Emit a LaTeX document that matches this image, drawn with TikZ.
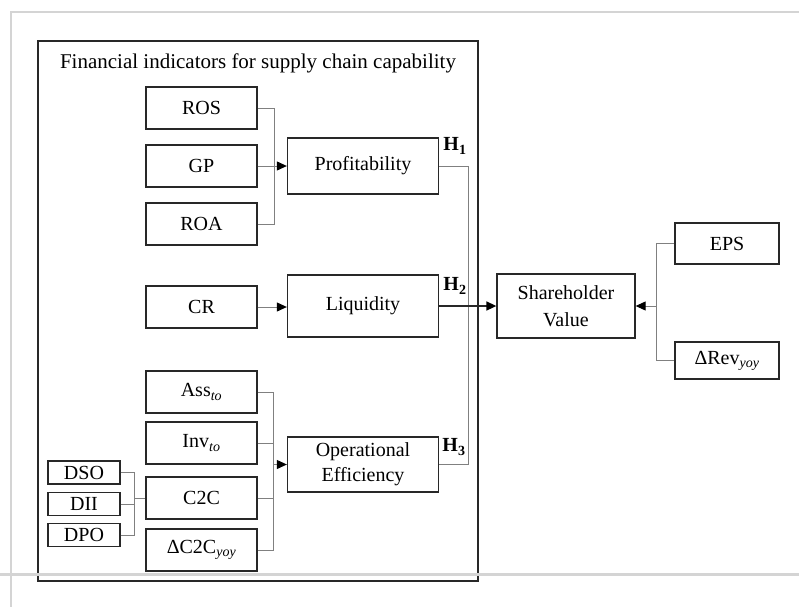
\documentclass[tikz,border=0pt]{standalone}
\usepackage{fontspec}
\setmainfont{Liberation Serif}
\usepackage{xcolor}
\definecolor{boxline}{RGB}{40,40,40}
\definecolor{linkgray}{RGB}{128,128,128}
\definecolor{framegray}{RGB}{212,212,212}
\usetikzlibrary{arrows.meta,positioning,calc}

\tikzset{
  ind/.style={draw=boxline, line width=1.3pt, minimum width=111pt, minimum height=42pt,
    inner sep=0pt, font=\fontsize{20}{25}\selectfont},
  subind/.style={ind, minimum width=72pt, minimum height=23pt},
  capab/.style={ind, minimum width=151pt, minimum height=56pt, align=center},
  link/.style={draw=linkgray, line width=1pt},
  arr/.style={-{Triangle[length=10pt,width=9pt,color=black]}},
  hyp/.style={font=\fontsize{20}{22}\selectfont\bfseries, inner sep=0pt}
}

\begin{document}
\begin{tikzpicture}[x=1pt,y=-1pt]
\useasboundingbox (0,0) rectangle (799,607);
% Outer frame for the indicators
\draw[boxline, line width=1.3pt] (38,41) rectangle (478,581);
\node[font=\fontsize{21}{24}\selectfont] (title) at (258,63) {Financial indicators for supply chain capability};
% Profitability group
\node[ind] (ros) at (201.5,108) {ROS};
\node[ind] (gp) at (201.5,166) {GP};
\node[ind] (roa) at (201.5,224) {ROA};
\node[capab] (profit) at (363,166) {Profitability};
\coordinate (pbar) at (274,166);
\draw[link] (ros.east) -| (pbar);
\draw[link] (roa.east) -| (pbar);
\draw[link, arr] (gp.east) -- (profit.west);
% Liquidity group
\node[ind] (cr) at (201.5,307) {CR};
\node[capab, minimum height=62pt] (liq) at (363,306) {Liquidity};
\draw[link, arr] (cr.east) -- (cr.east -| liq.west);
% Operational efficiency group
\node[ind] (ass) at (201.5,392) {Ass\textsubscript{\textit{to}}};
\node[ind] (inv) at (201.5,443) {Inv\textsubscript{\textit{to}}};
\node[ind] (ctc) at (201.5,498) {C2C};
\node[ind] (dctc) at (201.5,550) {ΔC2C\textsubscript{\textit{yoy}}};
\node[capab, minimum height=55pt] (opeff) at (363,464.5) {Operational\\Efficiency};
\coordinate (obar) at (273,464.5);
\draw[link] (ass.east) -| (obar);
\draw[link] (dctc.east) -| (obar);
\draw[link] (inv.east) -- (inv.east -| obar);
\draw[link] (ctc.east) -- (ctc.east -| obar);
\draw[link, arr] (obar) -- (opeff.west);
% C2C components
\node[subind] (dso) at (84,472.5) {DSO};
\node[subind] (dii) at (84,504) {DII};
\node[subind] (dpo) at (84,535) {DPO};
\coordinate (dbar) at (134,498);
\draw[link] (dso.east) -| (dbar);
\draw[link] (dpo.east) -| (dbar);
\draw[link] (dii.east) -- (dii.east -| dbar);
\draw[link] (dbar) -- (ctc.west);
% Shareholder value and its measures
\node[capab, minimum width=138pt, minimum height=64pt, font=\fontsize{20}{27}\selectfont] (sv) at (566,306) {Shareholder\\Value};
\node[ind, minimum width=104pt, minimum height=41pt] (eps) at (727,243.5) {EPS};
\node[ind, minimum width=104pt, minimum height=37pt] (drev) at (727,360.5) {ΔRev\textsubscript{\textit{yoy}}};
\coordinate (rbar) at (656,306);
\draw[link] (eps.west) -| (rbar);
\draw[link] (drev.west) -| (rbar);
\draw[link, arr] (rbar) -- (sv.east);
% Hypotheses
\coordinate (hbar) at (468,306);
\draw[link] (profit.east) -| (hbar);
\draw[link] (opeff.east) -| (hbar);
\draw[boxline, line width=1.6pt, arr] (liq.east) -- (sv.west);
\node[hyp] (h1) at (455,146) {H\textsubscript{1}};
\node[hyp] (h2) at (455,286) {H\textsubscript{2}};
\node[hyp] (h3) at (454,447) {H\textsubscript{3}};
% Screenshot edges
\draw[framegray, line width=1.5pt] (10,12) -- (799,12);
\draw[framegray, line width=1.5pt] (11,12) -- (11,607);
\draw[framegray, line width=3pt] (0,574) -- (799,574);
\end{tikzpicture}
\end{document}
